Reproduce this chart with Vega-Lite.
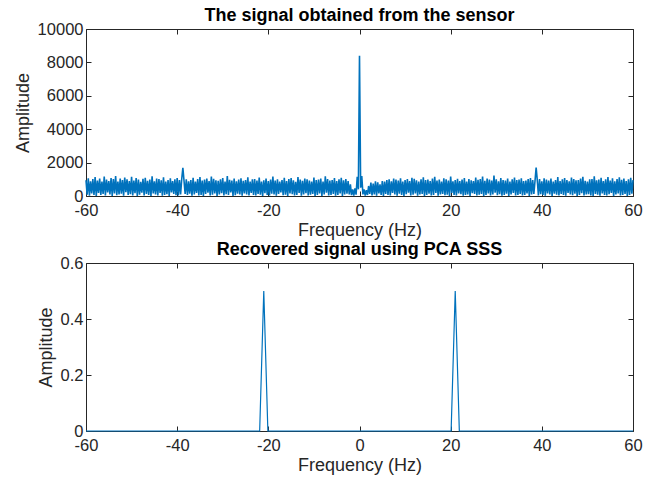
{
"$schema": "https://vega.github.io/schema/vega-lite/v6.json",
"padding": {"left": 13, "top": 6, "right": 5, "bottom": 5},
"spacing": 0,
"config": {
  "font": "Liberation Sans",
  "view": {"stroke": "#262626", "strokeWidth": 1},
  "axis": {"grid": false, "domain": false, "tickColor": "#262626", "tickSize": -5, "labelColor": "#262626", "labelFontSize": 16.5, "labelPadding": 8, "titleFontSize": 18, "titleFontWeight": "normal", "titleColor": "#262626", "labelFont": "Liberation Sans", "titleFont": "Liberation Sans", "labelFlush": false},
  "title": {"fontSize": 18, "fontWeight": "bold", "color": "#000000", "font": "Liberation Sans", "offset": -4}
},
"vconcat": [
  {
    "title": "The signal obtained from the sensor",
    "width": 547, "height": 167,
    "data": {"values": [
{"f":-60,"a":940},{"f":-59.75,"a":80},{"f":-59.5,"a":1060},{"f":-59.25,"a":20},
{"f":-59,"a":880},{"f":-58.75,"a":150},{"f":-58.5,"a":1010},{"f":-58.25,"a":60},
{"f":-58,"a":1130},{"f":-57.75,"a":10},{"f":-57.5,"a":920},{"f":-57.25,"a":190},
{"f":-57,"a":1040},{"f":-56.75,"a":70},{"f":-56.5,"a":860},{"f":-56.25,"a":120},
{"f":-56,"a":1170},{"f":-55.75,"a":30},{"f":-55.5,"a":990},{"f":-55.25,"a":210},
{"f":-55,"a":900},{"f":-54.75,"a":100},{"f":-54.5,"a":1080},{"f":-54.25,"a":0},
{"f":-54,"a":1020},{"f":-53.75,"a":160},{"f":-53.5,"a":1200},{"f":-53.25,"a":50},
{"f":-53,"a":870},{"f":-52.75,"a":90},{"f":-52.5,"a":1050},{"f":-52.25,"a":140},
{"f":-52,"a":960},{"f":-51.75,"a":20},{"f":-51.5,"a":1110},{"f":-51.25,"a":230},
{"f":-51,"a":1000},{"f":-50.75,"a":60},{"f":-50.5,"a":890},{"f":-50.25,"a":110},
{"f":-50,"a":1150},{"f":-49.75,"a":40},{"f":-49.5,"a":930},{"f":-49.25,"a":170},
{"f":-49,"a":1070},{"f":-48.75,"a":0},{"f":-48.5,"a":980},{"f":-48.25,"a":80},
{"f":-48,"a":850},{"f":-47.75,"a":200},{"f":-47.5,"a":1030},{"f":-47.25,"a":30},
{"f":-47,"a":1090},{"f":-46.75,"a":120},{"f":-46.5,"a":910},{"f":-46.25,"a":60},
{"f":-46,"a":990},{"f":-45.75,"a":10},{"f":-45.5,"a":1180},{"f":-45.25,"a":150},
{"f":-45,"a":880},{"f":-44.75,"a":90},{"f":-44.5,"a":1040},{"f":-44.25,"a":40},
{"f":-44,"a":1010},{"f":-43.75,"a":180},{"f":-43.5,"a":940},{"f":-43.25,"a":20},
{"f":-43,"a":1120},{"f":-42.75,"a":70},{"f":-42.5,"a":870},{"f":-42.25,"a":110},
{"f":-42,"a":960},{"f":-41.75,"a":0},{"f":-41.5,"a":1060},{"f":-41.25,"a":210},
{"f":-41,"a":900},{"f":-40.75,"a":130},{"f":-40.5,"a":1000},{"f":-40.25,"a":50},
{"f":-40,"a":1080},{"f":-39.75,"a":30},{"f":-39.5,"a":950},{"f":-39.25,"a":90},
{"f":-39,"a":1020},{"f":-38.75,"a":1680},{"f":-38.5,"a":930},{"f":-38.25,"a":120},
{"f":-38,"a":1000},{"f":-37.75,"a":60},{"f":-37.5,"a":880},{"f":-37.25,"a":140},
{"f":-37,"a":960},{"f":-36.75,"a":20},{"f":-36.5,"a":1090},{"f":-36.25,"a":90},
{"f":-36,"a":870},{"f":-35.75,"a":180},{"f":-35.5,"a":1010},{"f":-35.25,"a":30},
{"f":-35,"a":1140},{"f":-34.75,"a":70},{"f":-34.5,"a":920},{"f":-34.25,"a":0},
{"f":-34,"a":990},{"f":-33.75,"a":120},{"f":-33.5,"a":1050},{"f":-33.25,"a":200},
{"f":-33,"a":890},{"f":-32.75,"a":40},{"f":-32.5,"a":1170},{"f":-32.25,"a":80},
{"f":-32,"a":1030},{"f":-31.75,"a":150},{"f":-31.5,"a":940},{"f":-31.25,"a":10},
{"f":-31,"a":910},{"f":-30.75,"a":90},{"f":-30.5,"a":1000},{"f":-30.25,"a":170},
{"f":-30,"a":1080},{"f":-29.75,"a":30},{"f":-29.5,"a":860},{"f":-29.25,"a":110},
{"f":-29,"a":1190},{"f":-28.75,"a":60},{"f":-28.5,"a":970},{"f":-28.25,"a":220},
{"f":-28,"a":920},{"f":-27.75,"a":0},{"f":-27.5,"a":1040},{"f":-27.25,"a":50},
{"f":-27,"a":880},{"f":-26.75,"a":140},{"f":-26.5,"a":990},{"f":-26.25,"a":90},
{"f":-26,"a":1060},{"f":-25.75,"a":20},{"f":-25.5,"a":910},{"f":-25.25,"a":160},
{"f":-25,"a":950},{"f":-24.75,"a":100},{"f":-24.5,"a":1120},{"f":-24.25,"a":40},
{"f":-24,"a":870},{"f":-23.75,"a":190},{"f":-23.5,"a":1000},{"f":-23.25,"a":70},
{"f":-23,"a":1010},{"f":-22.75,"a":30},{"f":-22.5,"a":930},{"f":-22.25,"a":120},
{"f":-22,"a":1100},{"f":-21.75,"a":80},{"f":-21.5,"a":860},{"f":-21.25,"a":0},
{"f":-21,"a":940},{"f":-20.75,"a":170},{"f":-20.5,"a":1050},{"f":-20.25,"a":60},
{"f":-20,"a":890},{"f":-19.75,"a":40},{"f":-19.5,"a":980},{"f":-19.25,"a":140},
{"f":-19,"a":1160},{"f":-18.75,"a":90},{"f":-18.5,"a":920},{"f":-18.25,"a":20},
{"f":-18,"a":1000},{"f":-17.75,"a":130},{"f":-17.5,"a":870},{"f":-17.25,"a":210},
{"f":-17,"a":960},{"f":-16.75,"a":50},{"f":-16.5,"a":1090},{"f":-16.25,"a":80},
{"f":-16,"a":900},{"f":-15.75,"a":0},{"f":-15.5,"a":1020},{"f":-15.25,"a":150},
{"f":-15,"a":1070},{"f":-14.75,"a":110},{"f":-14.5,"a":940},{"f":-14.25,"a":40},
{"f":-14,"a":850},{"f":-13.75,"a":60},{"f":-13.5,"a":1130},{"f":-13.25,"a":190},
{"f":-13,"a":990},{"f":-12.75,"a":20},{"f":-12.5,"a":910},{"f":-12.25,"a":90},
{"f":-12,"a":1040},{"f":-11.75,"a":170},{"f":-11.5,"a":1000},{"f":-11.25,"a":30},
{"f":-11,"a":920},{"f":-10.75,"a":80},{"f":-10.5,"a":870},{"f":-10.25,"a":120},
{"f":-10,"a":1110},{"f":-9.75,"a":10},{"f":-9.5,"a":960},{"f":-9.25,"a":60},
{"f":-9,"a":980},{"f":-8.75,"a":150},{"f":-8.5,"a":1050},{"f":-8.25,"a":0},
{"f":-8,"a":870},{"f":-7.75,"a":90},{"f":-7.5,"a":1180},{"f":-7.25,"a":200},
{"f":-7,"a":1020},{"f":-6.75,"a":40},{"f":-6.5,"a":930},{"f":-6.25,"a":70},
{"f":-6,"a":960},{"f":-5.75,"a":120},{"f":-5.5,"a":1070},{"f":-5.25,"a":20},
{"f":-5,"a":890},{"f":-4.75,"a":60},{"f":-4.5,"a":1000},{"f":-4.25,"a":160},
{"f":-4,"a":1090},{"f":-3.75,"a":0},{"f":-3.5,"a":940},{"f":-3.25,"a":90},
{"f":-3,"a":1010},{"f":-2.75,"a":140},{"f":-2.5,"a":900},{"f":-2.25,"a":100},
{"f":-2,"a":700},{"f":-1.75,"a":50},{"f":-1.5,"a":400},{"f":-1.25,"a":30},
{"f":-1,"a":450},{"f":-0.75,"a":80},{"f":-0.5,"a":1150},{"f":-0.25,"a":400},
{"f":0,"a":8400},{"f":0.25,"a":500},{"f":0.5,"a":1200},{"f":0.75,"a":100},
{"f":1,"a":400},{"f":1.25,"a":30},{"f":1.5,"a":350},{"f":1.75,"a":60},
{"f":2,"a":600},{"f":2.25,"a":120},{"f":2.5,"a":800},{"f":2.75,"a":40},
{"f":3,"a":750},{"f":3.25,"a":90},{"f":3.5,"a":880},{"f":3.75,"a":20},
{"f":4,"a":820},{"f":4.25,"a":150},{"f":4.5,"a":700},{"f":4.75,"a":60},
{"f":5,"a":900},{"f":5.25,"a":10},{"f":5.5,"a":860},{"f":5.75,"a":130},
{"f":6,"a":950},{"f":6.25,"a":70},{"f":6.5,"a":1000},{"f":6.75,"a":30},
{"f":7,"a":880},{"f":7.25,"a":180},{"f":7.5,"a":1040},{"f":7.75,"a":90},
{"f":8,"a":990},{"f":8.25,"a":20},{"f":8.5,"a":920},{"f":8.75,"a":140},
{"f":9,"a":1060},{"f":9.25,"a":60},{"f":9.5,"a":870},{"f":9.75,"a":0},
{"f":10,"a":960},{"f":10.25,"a":110},{"f":10.5,"a":1010},{"f":10.75,"a":200},
{"f":11,"a":900},{"f":11.25,"a":40},{"f":11.5,"a":1090},{"f":11.75,"a":80},
{"f":12,"a":1030},{"f":12.25,"a":160},{"f":12.5,"a":940},{"f":12.75,"a":20},
{"f":13,"a":870},{"f":13.25,"a":90},{"f":13.5,"a":1000},{"f":13.75,"a":120},
{"f":14,"a":1120},{"f":14.25,"a":0},{"f":14.5,"a":950},{"f":14.75,"a":60},
{"f":15,"a":980},{"f":15.25,"a":140},{"f":15.5,"a":890},{"f":15.75,"a":30},
{"f":16,"a":1040},{"f":16.25,"a":70},{"f":16.5,"a":1150},{"f":16.75,"a":180},
{"f":17,"a":920},{"f":17.25,"a":20},{"f":17.5,"a":990},{"f":17.75,"a":100},
{"f":18,"a":860},{"f":18.25,"a":130},{"f":18.5,"a":1060},{"f":18.75,"a":50},
{"f":19,"a":1000},{"f":19.25,"a":80},{"f":19.5,"a":930},{"f":19.75,"a":0},
{"f":20,"a":1170},{"f":20.25,"a":190},{"f":20.5,"a":880},{"f":20.75,"a":70},
{"f":21,"a":960},{"f":21.25,"a":40},{"f":21.5,"a":1030},{"f":21.75,"a":150},
{"f":22,"a":900},{"f":22.25,"a":110},{"f":22.5,"a":980},{"f":22.75,"a":20},
{"f":23,"a":1080},{"f":23.25,"a":60},{"f":23.5,"a":870},{"f":23.75,"a":90},
{"f":24,"a":1010},{"f":24.25,"a":0},{"f":24.5,"a":940},{"f":24.75,"a":170},
{"f":25,"a":890},{"f":25.25,"a":130},{"f":25.5,"a":1100},{"f":25.75,"a":40},
{"f":26,"a":970},{"f":26.25,"a":80},{"f":26.5,"a":1020},{"f":26.75,"a":120},
{"f":27,"a":1160},{"f":27.25,"a":10},{"f":27.5,"a":910},{"f":27.75,"a":60},
{"f":28,"a":1050},{"f":28.25,"a":150},{"f":28.5,"a":990},{"f":28.75,"a":30},
{"f":29,"a":930},{"f":29.25,"a":90},{"f":29.5,"a":1230},{"f":29.75,"a":200},
{"f":30,"a":1000},{"f":30.25,"a":50},{"f":30.5,"a":880},{"f":30.75,"a":110},
{"f":31,"a":1070},{"f":31.25,"a":20},{"f":31.5,"a":960},{"f":31.75,"a":70},
{"f":32,"a":920},{"f":32.25,"a":140},{"f":32.5,"a":1040},{"f":32.75,"a":0},
{"f":33,"a":870},{"f":33.25,"a":90},{"f":33.5,"a":1000},{"f":33.75,"a":180},
{"f":34,"a":1110},{"f":34.25,"a":30},{"f":34.5,"a":950},{"f":34.75,"a":60},
{"f":35,"a":990},{"f":35.25,"a":120},{"f":35.5,"a":1060},{"f":35.75,"a":40},
{"f":36,"a":900},{"f":36.25,"a":70},{"f":36.5,"a":930},{"f":36.75,"a":150},
{"f":37,"a":1020},{"f":37.25,"a":10},{"f":37.5,"a":1080},{"f":37.75,"a":90},
{"f":38,"a":960},{"f":38.25,"a":130},{"f":38.5,"a":900},{"f":38.75,"a":1700},
{"f":39,"a":950},{"f":39.25,"a":40},{"f":39.5,"a":1010},{"f":39.75,"a":110},
{"f":40,"a":880},{"f":40.25,"a":70},{"f":40.5,"a":1060},{"f":40.75,"a":20},
{"f":41,"a":990},{"f":41.25,"a":160},{"f":41.5,"a":920},{"f":41.75,"a":90},
{"f":42,"a":1040},{"f":42.25,"a":0},{"f":42.5,"a":870},{"f":42.75,"a":140},
{"f":43,"a":950},{"f":43.25,"a":80},{"f":43.5,"a":1130},{"f":43.75,"a":30},
{"f":44,"a":900},{"f":44.25,"a":120},{"f":44.5,"a":1000},{"f":44.75,"a":60},
{"f":45,"a":1070},{"f":45.25,"a":20},{"f":45.5,"a":960},{"f":45.75,"a":190},
{"f":46,"a":880},{"f":46.25,"a":90},{"f":46.5,"a":1110},{"f":46.75,"a":50},
{"f":47,"a":1010},{"f":47.25,"a":140},{"f":47.5,"a":940},{"f":47.75,"a":0},
{"f":48,"a":960},{"f":48.25,"a":60},{"f":48.5,"a":1050},{"f":48.75,"a":170},
{"f":49,"a":1150},{"f":49.25,"a":30},{"f":49.5,"a":910},{"f":49.75,"a":100},
{"f":50,"a":870},{"f":50.25,"a":110},{"f":50.5,"a":1000},{"f":50.75,"a":40},
{"f":51,"a":1020},{"f":51.25,"a":0},{"f":51.5,"a":1180},{"f":51.75,"a":130},
{"f":52,"a":940},{"f":52.25,"a":80},{"f":52.5,"a":990},{"f":52.75,"a":20},
{"f":53,"a":1090},{"f":53.25,"a":150},{"f":53.5,"a":900},{"f":53.75,"a":70},
{"f":54,"a":1000},{"f":54.25,"a":40},{"f":54.5,"a":1140},{"f":54.75,"a":110},
{"f":55,"a":930},{"f":55.25,"a":180},{"f":55.5,"a":1060},{"f":55.75,"a":10},
{"f":56,"a":880},{"f":56.25,"a":90},{"f":56.5,"a":1010},{"f":56.75,"a":150},
{"f":57,"a":1120},{"f":57.25,"a":30},{"f":57.5,"a":970},{"f":57.75,"a":60},
{"f":58,"a":1040},{"f":58.25,"a":120},{"f":58.5,"a":900},{"f":58.75,"a":0},
{"f":59,"a":1000},{"f":59.25,"a":70},{"f":59.5,"a":1090},{"f":59.75,"a":140},
{"f":60,"a":950}
    ]},
    "layer": [
      {"mark": {"type": "line", "color": "#0072BD", "strokeWidth": 1.6},
       "encoding": {
         "x": {"field": "f", "type": "quantitative", "scale": {"domain": [-60, 60], "nice": false, "zero": false},
               "axis": {"orient": "bottom", "values": [-60, -40, -20, 0, 20, 40, 60], "title": "Frequency (Hz)", "labelPadding": 11, "titlePadding": 3, "labelExpr": "datum.value < 0 ? '-' + (-datum.value) : '' + datum.value"}},
         "y": {"field": "a", "type": "quantitative", "scale": {"domain": [0, 10000], "nice": false},
               "axis": {"orient": "left", "values": [0, 2000, 4000, 6000, 8000, 10000], "format": "d", "title": "Amplitude", "titlePadding": 5}}
       }},
      {"mark": {"type": "line", "strokeOpacity": 0},
       "encoding": {
         "x": {"field": "f", "type": "quantitative", "axis": {"orient": "top", "values": [-60, -40, -20, 0, 20, 40, 60], "labels": false, "title": null}},
         "y": {"field": "a", "type": "quantitative", "axis": {"orient": "right", "values": [0, 2000, 4000, 6000, 8000, 10000], "labels": false, "title": null}}
       }}
    ],
    "resolve": {"axis": {"x": "independent", "y": "independent"}}
  },
  {
    "title": "Recovered signal using PCA SSS",
    "width": 547, "height": 168,
    "data": {"values": [
      {"f": -60, "a": 0}, {"f": -21.9, "a": 0}, {"f": -21, "a": 0.5}, {"f": -20.1, "a": 0},
      {"f": 20.1, "a": 0}, {"f": 21, "a": 0.5}, {"f": 21.9, "a": 0}, {"f": 60, "a": 0}
    ]},
    "layer": [
      {"mark": {"type": "line", "color": "#0072BD", "strokeWidth": 1.2},
       "encoding": {
         "x": {"field": "f", "type": "quantitative", "scale": {"domain": [-60, 60], "nice": false, "zero": false},
               "axis": {"orient": "bottom", "values": [-60, -40, -20, 0, 20, 40, 60], "title": "Frequency (Hz)", "labelPadding": 11, "titlePadding": 3, "labelExpr": "datum.value < 0 ? '-' + (-datum.value) : '' + datum.value"}},
         "y": {"field": "a", "type": "quantitative", "scale": {"domain": [0, 0.6], "nice": false},
               "axis": {"orient": "left", "values": [0, 0.2, 0.4, 0.6], "format": ".1~f", "title": "Amplitude", "titlePadding": 5}}
       }},
      {"mark": {"type": "line", "strokeOpacity": 0},
       "encoding": {
         "x": {"field": "f", "type": "quantitative", "axis": {"orient": "top", "values": [-60, -40, -20, 0, 20, 40, 60], "labels": false, "title": null}},
         "y": {"field": "a", "type": "quantitative", "axis": {"orient": "right", "values": [0, 0.2, 0.4, 0.6], "labels": false, "title": null}}
       }}
    ],
    "resolve": {"axis": {"x": "independent", "y": "independent"}}
  }
]
}
